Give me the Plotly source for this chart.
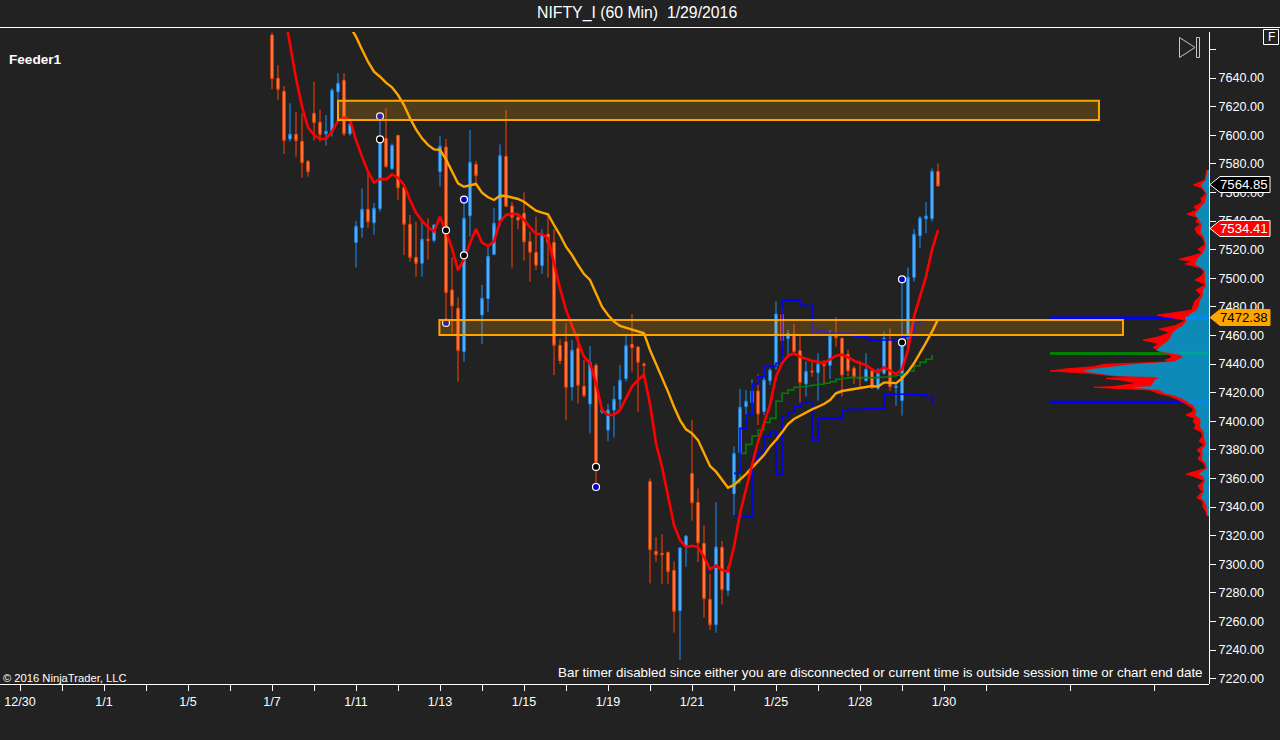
import plotly.graph_objects as go

# ---------- bar index axis ----------
tick_index = [0, 14, 28, 42, 56, 70, 84, 98, 112, 126, 140, 154]
tick_dates = ["12/30", "1/1", "1/5", "1/7", "1/11", "1/13", "1/15", "1/19", "1/21", "1/25", "1/28", "1/30"]
minor_index = [7, 21, 35, 49, 63, 77, 91, 105, 119, 133, 147, 161, 175, 189]
price_ticks = [7220 + 20 * k for k in range(23)]
price_labels = ["%d.00" % p if p != 7660 else "" for p in price_ticks]

first_bar = 42
opens = [7670, 7639.8, 7630.7, 7597.3, 7600.6, 7595.7, 7581.7, 7615.3, 7609, 7601, 7602.5, 7630.4, 7638.4, 7601,
         7524.9, 7535.3, 7548.2, 7538.8, 7548.6, 7597.8, 7576.6, 7599.9, 7563.3, 7537.7, 7514.6, 7510.4, 7527.2, 7526.3,
         7574.5, 7591.7, 7491.8, 7479, 7448.6, 7543.7, 7579.6, 7474.3, 7485.7, 7516.7, 7540.2, 7585.2, 7550.5, 7542.6,
         7545.4, 7525.6, 7518.1, 7508.8, 7530.7, 7525.1, 7453.1, 7455.6, 7423.9, 7451, 7424.4, 7412, 7439.1, 7406.5,
         7393.8, 7407.8, 7415.3, 7429.8, 7453.8, 7451.9, 7440,
         7357.9, 7309, 7307.6, 7308.3, 7295.7, 7267.5, 7312.9, 7363.5, 7343.2, 7314.6, 7275.4, 7257.7, 7311.8, 7281.7,
         7349.3, 7378, 7410.2, 7413, 7421.1, 7406.7, 7428.3, 7438.6, 7474.7, 7457.7, 7461, 7449.3, 7426, 7435, 7433.9,
         7440, 7439.1, 7459.8, 7458, 7446.8, 7437, 7430.7, 7428.3, 7435.1, 7423, 7433.5, 7457.3, 7423.5, 7414.4, 7457.9,
         7500.6, 7529.7, 7541.6, 7541.6, 7574.7]
highs = [7671.7, 7649, 7634.4, 7622.3, 7616.2, 7615.3, 7582.7, 7637.4, 7617.6, 7614.1, 7632.8, 7643.3, 7643.3, 7608.8,
         7540, 7562.8, 7574.5, 7552.4, 7613.2, 7618.8, 7594.3, 7600.1, 7565.2, 7544.2, 7539.5, 7539.5, 7541.9, 7537.7,
         7599.4, 7597.3, 7514.6, 7486.6, 7555, 7603.6, 7582, 7495.3, 7522, 7548.9, 7593.6, 7617.6, 7553.5, 7545.4,
         7560, 7532.6, 7543, 7534.2, 7544.9, 7534.2, 7457.3, 7468.4, 7456.8, 7461.5, 7442.8, 7452.6, 7440.5, 7410,
         7412, 7424.6, 7439.3, 7459.6, 7475, 7452.6, 7441.2,
         7360, 7319, 7320.9, 7308.7, 7302, 7312, 7320.4, 7400.8, 7353, 7327.2, 7293.1, 7343.2, 7316.2, 7298.7,
         7382.4, 7422.5, 7421.8, 7429.3, 7432.8, 7438.6, 7437, 7484, 7477.8, 7463.8, 7468, 7460.3, 7442.1, 7441.6, 7447.5,
         7442.8, 7463.8, 7472.6, 7458.4, 7449.8, 7438.6, 7442.1, 7447.5, 7437, 7437.4, 7462.6, 7464.9, 7426.5, 7499.2, 7507.6,
         7534.2, 7543.5, 7553.3, 7576.8, 7580.3]
lows = [7632.3, 7624.6, 7586.9, 7595.5, 7585, 7570.3, 7571, 7596.2, 7595.5, 7592.7, 7599, 7610.6, 7599.4, 7599.7,
        7507.4, 7528.3, 7535.3, 7530.4, 7546.5, 7577.3, 7575.7, 7554.7, 7516.2, 7511.6, 7501.1, 7501.1, 7513.2, 7524.9,
        7564, 7469, 7461.5, 7427.7, 7441.6, 7529, 7565.2, 7454, 7476.6, 7516.2, 7536.5, 7550, 7507.4, 7534.2,
        7512.3, 7497.6, 7505.7, 7503, 7500.4, 7432.3, 7440, 7400.8, 7414.4, 7412.5, 7416.5, 7391.5, 7354, 7405,
        7386, 7388.7, 7408.3, 7427.7, 7434.7, 7406.7, 7430,
        7286.6, 7301.7, 7286.1, 7286.1, 7252.1, 7233, 7298.2, 7330.4, 7301.5, 7262.6, 7254, 7252.1, 7271.7, 7278,
        7334.1, 7372.8, 7400.8, 7404.3, 7397.3, 7404.3, 7425.3, 7435.8, 7452.1, 7446.3, 7448.6, 7411.3, 7417.2, 7431, 7414.4,
        7426.5, 7429.5, 7452.1, 7417.2, 7431.6, 7426, 7423, 7427.6, 7422.5, 7421.8, 7432.5, 7421.1, 7410.6, 7403.9, 7451,
        7497.6, 7521.4, 7531.4, 7539.5, 7564]
closes = [7639.5, 7632, 7596.2, 7600.6, 7596.2, 7580.8, 7574.5, 7608.8, 7600.4, 7602.7, 7631.4, 7636.3, 7601, 7607.6,
          7536.3, 7548.2, 7539.5, 7548.9, 7595.5, 7578, 7592.9, 7563.3, 7537.7, 7514.4, 7510.4, 7527.2, 7526.3, 7537.2,
          7592.2, 7489.9, 7480.6, 7449.3, 7541.9, 7581, 7571.7, 7485.9, 7515.3, 7538.4, 7585.9, 7550.3, 7542.6, 7540.7,
          7525.5, 7518.1, 7509, 7530.2, 7525.1, 7453.1, 7442.3, 7423.7, 7449.6, 7425.1, 7417.9, 7441, 7371, 7407.8,
          7407.8, 7415.3, 7428.6, 7453, 7451.4, 7441.2, 7438.9,
          7310.1, 7306.6, 7306.6, 7294.8, 7267, 7311.3, 7319.7, 7343, 7315, 7275.9, 7257.7, 7312, 7282.2, 7294.8,
          7377.5, 7409.7, 7413.9, 7421.1, 7405, 7428.8, 7435.8, 7475, 7456.3, 7461.4, 7448.6, 7427, 7434.9, 7434.4, 7440,
          7438.8, 7459.8, 7458.4, 7432.3, 7435.3, 7431.1, 7429.7, 7436.3, 7423.5, 7433.5, 7458, 7424.2, 7424.6, 7453.3, 7500.6,
          7530.7, 7542.1, 7543.5, 7574.7, 7564.5]

red_start = 44
red_ma = [7687.6, 7663.8, 7639.8, 7620, 7605.5, 7600.1, 7597.3, 7597.3, 7602.5, 7610.2, 7612.5, 7610.6, 7596.6, 7585, 7574.5,
          7566.8, 7569.4, 7569.1, 7572.6, 7570.3, 7565.2, 7554.7, 7545.8, 7540.2, 7535.6, 7532.8, 7543, 7532.6,
          7520.9, 7505.7, 7513.2, 7524.4, 7534.4, 7524.9, 7522.5, 7525.6, 7539.5, 7544.2, 7545.1, 7544.7, 7540.7, 7535.6,
          7530.9, 7530.9, 7527.9, 7510.4, 7492.9, 7477.8, 7467.3, 7456.8, 7445.1, 7440.5, 7426.5, 7407.8, 7404.3, 7404.3,
          7407.8, 7416, 7424.2, 7428.8, 7432.3, 7412, 7384.5, 7368.2, 7347.2, 7327.4, 7316.9, 7312, 7312.9, 7312, 7305.2,
          7296.4, 7299, 7295.9, 7295, 7312.2, 7335.5, 7353, 7369.3, 7385.7, 7398.5, 7411.3, 7431.2, 7440.5, 7445.8, 7447.5,
          7445.1, 7443.5, 7442.3, 7441.6, 7440.5, 7443.3, 7445.8, 7446.5, 7444.7, 7442.3, 7440.5, 7439.3, 7436.3, 7434.2,
          7437.7, 7435.3, 7433, 7436.3, 7449.8, 7473.1, 7487.1, 7501.1, 7519.7, 7533.7]

orange_start = 55
orange_ma = [7676, 7668.9, 7660, 7651.4, 7644.4, 7640.9, 7636.7, 7633.5, 7628.1, 7621.1, 7611.8, 7604.1, 7597.8, 7593.2, 7590.1,
             7589.7, 7583.1, 7574.5, 7566.3, 7564, 7565.2, 7565.9, 7559.8, 7556.6, 7554.7, 7557.7, 7557.5, 7556.3, 7555.4,
             7553.5, 7550.5, 7547.2, 7545.8, 7544.7, 7537.2, 7530.2, 7522, 7516.2, 7509.2, 7502.9, 7498.8, 7489.4, 7480.1,
             7474.3, 7469.6, 7466.6, 7465.4, 7464.3, 7462.6, 7461.5, 7449.8, 7440.5, 7431.2, 7420.7, 7410.1, 7400.8, 7394.3,
             7391.5, 7386.8, 7377.5, 7368.6, 7364.7, 7359.3, 7353.5, 7355.4, 7358.9, 7363, 7367.5, 7371.7, 7376.3, 7382.2,
             7386.8, 7392.2, 7398, 7401.5, 7403.8, 7405.9, 7408.3, 7410.1, 7412, 7414.8, 7419.5, 7421.1, 7421.8, 7422.3,
             7423, 7423.9, 7424.6, 7424.2, 7427, 7427, 7426.5, 7430, 7434.7, 7440.5, 7447.5, 7454.9, 7462.6, 7471.2]

step_start = 119
green_steps = [7357, 7377.5, 7383.8, 7389.6, 7393.8, 7399.2, 7402, 7413.9, 7419.5, 7421.8, 7423.7, 7424.1, 7424.8, 7425.3,
               7425.8, 7426.5, 7427.7, 7429.3, 7430, 7430.5, 7430.5, 7430.5, 7430.5, 7430.5, 7430.7, 7430.9, 7431.6, 7432.1,
               7433.2, 7435.1, 7438.8, 7441.2, 7443.3, 7446.3]
blue_upper = [7363.5, 7395, 7404.3, 7426, 7431.2, 7438.6, 7438.6, 7440.5, 7484.7, 7484.7, 7484.7, 7481, 7481, 7461.4, 7463.5,
              7461.4, 7461.4, 7461.4, 7461.4, 7461.4, 7459.1, 7459.1, 7457.2, 7456.8, 7456.8, 7456.8, 7456.8, 7456.8, 7459.1,
              7459.8, 7468.4, 7469.8, 7470.8]
blue_lower = [7334.1, 7333.2, 7333.2, 7374, 7378.7, 7389.2, 7392.7, 7362.4, 7403.8, 7406.6, 7410.1, 7412.5, 7413.6, 7386.8,
              7402, 7402, 7402, 7402, 7407.8, 7408.3, 7408.3, 7408.3, 7409, 7409, 7409, 7418.8, 7418.8, 7418.8, 7418.8, 7418.8,
              7418.8, 7418.8, 7416.7, 7412.5]

blue_dot_bars = [60, 71, 74, 96, 147]
blue_dot_prices = [7613.2, 7468.7, 7555, 7354, 7499.2]
black_dot_bars = [60, 71, 74, 96, 147]
black_dot_prices = [7597.1, 7533.5, 7516, 7368, 7455.1]

zone_bars_a = [53, 179.83]
zone_prices_a = [7610.6, 7624.1]
zone_bars_b = [69.9, 183.83]
zone_prices_b = [7460.3, 7470.8]

# ---------- volume profile ----------
profile_prices = [7575.7, 7572.2, 7568.7, 7565.2, 7563.3, 7559.3, 7555.8, 7553, 7550, 7547.7, 7544.9, 7542.3, 7539.5, 7537.7,
                  7534.9, 7531.4, 7529, 7526, 7523.2, 7520.4, 7517.4, 7513.2, 7511.6, 7510, 7507.4, 7504.6, 7501.8, 7498.7,
                  7495.7, 7494, 7491.7, 7488.2, 7484, 7480.7, 7477.7, 7475.4, 7474.2, 7470.7, 7469, 7466.8, 7464.4, 7462.1,
                  7459, 7456.7, 7454.4, 7451.4, 7449.3, 7446.3, 7444.4, 7442.8, 7441.6, 7439.8, 7438.1, 7436.5, 7435.1, 7433.5,
                  7431.8, 7430.9, 7430, 7428.8, 7426.5, 7424.2, 7423.7, 7421.8, 7419.5, 7417.9, 7415.5, 7411.3, 7409, 7406.7,
                  7404.3, 7402, 7400.1, 7397.3, 7395, 7392.6, 7389.6, 7386.4, 7383.3, 7379.8, 7377, 7373.5, 7370.5, 7367, 7363,
                  7361.6, 7358.4, 7354.7, 7350.7, 7346.7, 7343.7, 7340.2, 7336.7, 7333.7]
profile_total = [2.3, 3, 4, 15.7, 8, 3, 8, 7, 15, 12, 22, 11, 13, 9,
                 14, 12, 7, 5, 4, 11, 7, 30, 16, 24, 9, 5, 7, 14,
                 4, 7, 13, 8, 14, 16, 17, 40, 52, 24, 27, 34, 50, 39,
                 50, 66, 50, 56, 50, 39, 37, 44, 37, 104, 116, 144, 159, 119,
                 97, 64, 103, 88, 71, 96, 115, 59, 51, 41, 32, 21, 16, 16,
                 23, 14, 16, 13, 15, 8, 6, 10, 5, 12, 8, 11, 5, 3, 23,
                 16, 5, 11, 7, 12, 6, 6, 3, 2]
profile_inner = [1, 2, 3, 8, 6, 2, 3, 4, 8, 10, 14, 11, 9, 7,
                 8, 8, 5, 4, 3, 4, 6, 12, 12, 14, 8, 4, 4, 4,
                 3, 3, 6, 6, 9, 10, 12, 18, 20, 22, 24, 26, 32, 36,
                 38, 40, 44, 50, 52, 28, 26, 32, 34, 74, 95, 115, 125, 112,
                 92, 52, 50, 54, 56, 58, 76, 50, 44, 34, 26, 16, 14, 12,
                 14, 9, 8, 9, 8, 5, 5, 4, 3, 7, 6, 7, 3, 2, 10,
                 6, 4, 6, 5, 8, 4, 2, 2, 1]
level_prices = [7472.1, 7447.4, 7413.2]
level_widths = [159, 159, 159]
level_inner = [24, 30, 20]
level_colors = ["#0000FF", "#008000", "#0000FF"]
level_light = ["#0088F5", "#00A0A0", "#0088F5"]

callout_prices = ["7564.85", "7534.41", "7472.38"]
callout_fills = ["#000000", "#FF0000", "#FFA500"]
callout_text = ["#FFFFFF", "#FFFFFF", "#000000"]
callout_lines = ["#FFFFFF", "#FFFFFF", "#FFA500"]

BG = "#222222"
FONT = "Liberation Sans"
PL, PR, PT, PB = 0, 1209, 32, 684


def px(x):
    return (x - PL) / (PR - PL)


def py(y):
    return (PB - y) / (PB - PT)


fig = go.Figure()

bars = list(range(first_bar, first_bar + len(opens)))
fig.add_trace(go.Candlestick(
    x=bars, open=opens, high=highs, low=lows, close=closes,
    increasing=dict(line=dict(color="#1E90FF", width=1), fillcolor="#66BDF5"),
    decreasing=dict(line=dict(color="#FF4500", width=1), fillcolor="#FF8A5C"),
    whiskerwidth=0, showlegend=False, hoverinfo="skip"))

fig.add_trace(go.Scatter(x=list(range(step_start, step_start + len(green_steps))), y=green_steps, mode="lines",
                         line=dict(color="#008000", width=1.6, shape="hv"), showlegend=False, hoverinfo="skip"))
fig.add_trace(go.Scatter(x=list(range(step_start, step_start + len(blue_upper))), y=blue_upper, mode="lines",
                         line=dict(color="#0000FF", width=1.6, shape="hv"), showlegend=False, hoverinfo="skip"))
fig.add_trace(go.Scatter(x=list(range(step_start, step_start + len(blue_lower))), y=blue_lower, mode="lines",
                         line=dict(color="#0000FF", width=1.6, shape="hv"), showlegend=False, hoverinfo="skip"))
fig.add_trace(go.Scatter(x=list(range(orange_start, orange_start + len(orange_ma))), y=orange_ma, mode="lines",
                         line=dict(color="#FFA500", width=2.4), showlegend=False, hoverinfo="skip"))
fig.add_trace(go.Scatter(x=list(range(red_start, red_start + len(red_ma))), y=red_ma, mode="lines",
                         line=dict(color="#FF0000", width=2.6), showlegend=False, hoverinfo="skip"))
fig.add_trace(go.Scatter(x=blue_dot_bars, y=blue_dot_prices, mode="markers",
                         marker=dict(size=7, color="#0000CC", line=dict(color="#FFFFFF", width=1.2)),
                         showlegend=False, hoverinfo="skip"))
fig.add_trace(go.Scatter(x=black_dot_bars, y=black_dot_prices, mode="markers",
                         marker=dict(size=7, color="#000000", line=dict(color="#FFFFFF", width=1.2)),
                         showlegend=False, hoverinfo="skip"))

# profile, drawn on its own reversed axis measured from the price axis
for p, w, col in zip(level_prices, level_widths, level_colors):
    fig.add_trace(go.Scatter(x=[w, 0], y=[p, p], xaxis="x2", mode="lines", line=dict(color=col, width=3),
                             showlegend=False, hoverinfo="skip"))
fig.add_trace(go.Scatter(x=profile_total, y=profile_prices, xaxis="x2", mode="lines", fill="tozerox",
                         fillcolor="#FF0000", line=dict(color="#FF0000", width=1),
                         showlegend=False, hoverinfo="skip"))
fig.add_trace(go.Scatter(x=profile_inner, y=profile_prices, xaxis="x2", mode="lines", fill="tozerox",
                         fillcolor="#0E8AB9", line=dict(color="#0E8AB9", width=0.5),
                         showlegend=False, hoverinfo="skip"))
for p, w, col in zip(level_prices, level_inner, level_light):
    fig.add_trace(go.Scatter(x=[w, 0], y=[p, p], xaxis="x2", mode="lines", line=dict(color=col, width=3),
                             showlegend=False, hoverinfo="skip"))

shapes = []
for xs, ys in ((zone_bars_a, zone_prices_a), (zone_bars_b, zone_prices_b)):
    shapes.append(dict(type="rect", xref="x", yref="y", x0=xs[0], x1=xs[1], y0=ys[0], y1=ys[1],
                       fillcolor="rgba(255,165,0,0.2)", line=dict(color="#FFA500", width=2), layer="above"))


def paper_line(x0, y0, x1, y1, color="#FFFFFF", width=1):
    return dict(type="line", xref="paper", yref="paper", x0=px(x0), x1=px(x1), y0=py(y0), y1=py(y1),
                line=dict(color=color, width=width), layer="above")


shapes.append(paper_line(0, 27.5, 1280, 27.5))
shapes.append(paper_line(1209.5, 32, 1209.5, 684))
# play-to-end button and F box
shapes.append(dict(type="path", xref="paper", yref="paper",
                   path="M %f,%f L %f,%f L %f,%f Z" % (px(1179.5), py(37.5), px(1195), py(47.5), px(1179.5), py(57.5)),
                   line=dict(color="#C8C8C8", width=1), layer="above"))
shapes.append(dict(type="rect", xref="paper", yref="paper", x0=px(1196.5), x1=px(1199.5), y0=py(57.5), y1=py(37.5),
                   line=dict(color="#C8C8C8", width=1), layer="above"))
shapes.append(dict(type="rect", xref="paper", yref="paper", x0=px(1263.5), x1=px(1278.5), y0=py(44.5), y1=py(29.5),
                   line=dict(color="#FFFFFF", width=1), layer="above"))

annotations = [
    dict(text="NIFTY_I (60 Min)\u00a0\u00a01/29/2016", x=px(636.5), y=py(13), font=dict(size=15.8, color="#FFFFFF", family=FONT)),
    dict(text="F", x=px(1271), y=py(37), font=dict(size=12, color="#FFFFFF", family=FONT)),
    dict(text="<b>Feeder1</b>", x=px(8), y=py(60), xanchor="left", font=dict(size=13.6, color="#FFFFFF", family=FONT)),
    dict(text="\u00a9 2016 NinjaTrader, LLC", x=px(2), y=py(678), xanchor="left", font=dict(size=11.2, color="#FFFFFF", family=FONT)),
    dict(text="Bar timer disabled since either you are disconnected or current time is outside session time or chart end date",
         x=px(1204), y=py(672), xanchor="right", font=dict(size=13.4, color="#FFFFFF", family=FONT)),
]

callout_y = [184.5, 228.5, 317.5]
for lab, fc, tc, lc, cy in zip(callout_prices, callout_fills, callout_text, callout_lines, callout_y):
    pts = [(1210, cy), (1220, cy - 8), (1270, cy - 8), (1270, cy + 8), (1220, cy + 8)]
    path = "M " + " L ".join("%f,%f" % (px(a), py(b)) for a, b in pts) + " Z"
    shapes.append(dict(type="path", xref="paper", yref="paper", path=path, fillcolor=fc,
                       line=dict(color=lc, width=1), layer="above"))
    annotations.append(dict(text=lab, x=px(1244), y=py(cy), font=dict(size=13.2, color=tc, family=FONT)))

for a in annotations:
    a.update(xref="paper", yref="paper", showarrow=False, yanchor="middle", borderpad=0)
    a.setdefault("xanchor", "center")

yspan = lambda yy: 7640 - (yy - 78) / 1.43
fig.update_layout(
    width=1280, height=740, margin=dict(l=PL, r=1280 - PR, t=PT, b=740 - PB, pad=0),
    paper_bgcolor=BG, plot_bgcolor=BG, showlegend=False, boxgap=0.45, hovermode=False,
    font=dict(family=FONT, color="#FFFFFF", size=12),
    shapes=shapes, annotations=annotations,
    xaxis=dict(range=[(PL - 20) / 6, (PR - 20) / 6], tickmode="array", tickvals=tick_index, ticktext=tick_dates,
               ticks="outside", ticklen=6, tickcolor="#FFFFFF", tickwidth=1, showgrid=False, zeroline=False,
               showline=True, linecolor="#FFFFFF", linewidth=1, rangeslider=dict(visible=False),
               tickfont=dict(size=12.5, color="#FFFFFF", family=FONT),
               minor=dict(tickmode="array", tickvals=minor_index, ticks="outside", ticklen=6, tickcolor="#FFFFFF", showgrid=False)),
    xaxis2=dict(range=[PR - PL, 0], overlaying="x", visible=False, anchor="y"),
    yaxis=dict(range=[yspan(PB), yspan(PT)], side="right", tickmode="array", tickvals=price_ticks, ticktext=price_labels,
               ticks="outside", ticklen=6, tickcolor="#FFFFFF", tickwidth=1, showgrid=False, zeroline=False,
               showline=False, tickfont=dict(size=12.6, color="#FFFFFF", family=FONT)),
)

fig.write_html("out.html", post_script="document.body.style.margin='0';document.body.style.overflow='hidden';",
               config=dict(displayModeBar=False))
